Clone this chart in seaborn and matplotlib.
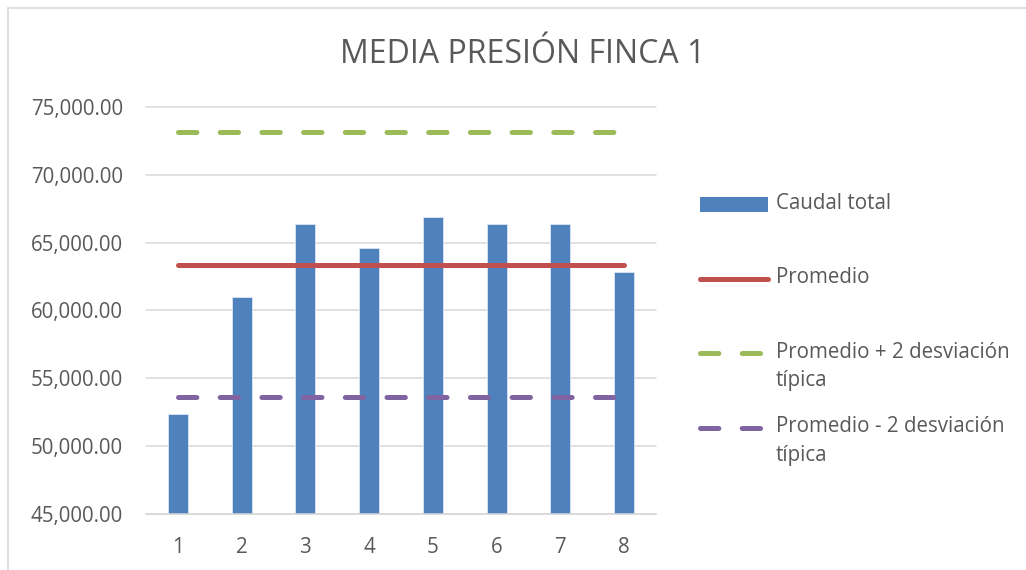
import numpy as np
import pandas as pd
import seaborn as sns
import matplotlib.pyplot as plt
from matplotlib.legend_handler import HandlerLine2D, HandlerPatch
from matplotlib.lines import Line2D
from matplotlib.patches import Patch
from matplotlib.ticker import FuncFormatter

# ---- data ----
categories = ["1", "2", "3", "4", "5", "6", "7", "8"]
caudal_total = [52380, 60990, 66380, 64610, 66880, 66380, 66380, 62820]
promedio = 63380
promedio_mas_2sd = 73150
promedio_menos_2sd = 53610
y_ticks = [45000, 50000, 55000, 60000, 65000, 70000, 75000]
title = "MEDIA PRESIÓN FINCA 1"
legend_labels = ["Caudal total\n", "Promedio\n",
                 "Promedio + 2 desviación\ntípica",
                 "Promedio - 2 desviación\ntípica"]

BLUE, RED, GREEN, PURPLE = "#4F81BD", "#C0504D", "#9BBB59", "#8064A2"
TXT, GRID = "#595959", "#D9D9D9"

sns.set_theme(style="white")
plt.rcParams['font.family'] = ['Open Sans', 'DejaVu Sans']

W, H = 1026, 570
fig = plt.figure(figsize=(W / 100, H / 100), dpi=100)
ax = fig.add_axes([146 / W, 1 - 514 / H, 510 / W, 407 / H])

df = pd.DataFrame({"x": categories, "y": caudal_total})
sns.barplot(data=df, x="x", y="y", color=BLUE, saturation=1, width=0.31,
            edgecolor="#dce6f2", linewidth=0.6, ax=ax, zorder=2)

pos = np.arange(len(categories))
lw = 3.6
dash = (0, (3.67, 4.67))
sns.lineplot(x=pos, y=[promedio] * len(categories), color=RED, linewidth=lw,
             solid_capstyle="round", ax=ax, zorder=3)
sns.lineplot(x=pos, y=[promedio_mas_2sd] * len(categories), color=GREEN,
             linewidth=lw, linestyle=dash, dash_capstyle="round", ax=ax, zorder=3)
sns.lineplot(x=pos, y=[promedio_menos_2sd] * len(categories), color=PURPLE,
             linewidth=lw, linestyle=dash, dash_capstyle="round", ax=ax, zorder=3)

ax.set_xlim(-0.5, len(categories) - 0.5)
ax.set_ylim(y_ticks[0], y_ticks[-1])
ax.set_yticks(y_ticks)
ax.yaxis.set_major_formatter(FuncFormatter(lambda v, p: f"{v:,.2f}"))
ax.set_xlabel("")
ax.set_ylabel("")
for s in ["top", "right", "left"]:
    ax.spines[s].set_visible(False)
ax.spines["bottom"].set_color(GRID)
ax.spines["bottom"].set_linewidth(1.1)
ax.yaxis.grid(True, color=GRID, linewidth=1.1)
ax.set_axisbelow(True)
for gl in ax.get_ygridlines():
    gl.set_clip_on(False)
ax.tick_params(axis="both", length=0, labelsize=14.8, labelcolor=TXT)
ax.tick_params(axis="y", pad=16.5)
ax.tick_params(axis="x", pad=16.5)

fig.text(523 / W, 1 - 63 / H, title, ha="center", va="baseline",
         fontsize=23, color=TXT)

# figure border (left and top visible in reference)
fig.add_artist(Line2D([8 / W, 8 / W], [0, 1 - 8 / H], color=GRID, lw=1.2,
                      transform=fig.transFigure))
fig.add_artist(Line2D([8 / W, 1], [1 - 8 / H, 1 - 8 / H], color=GRID, lw=1.2,
                      transform=fig.transFigure))

SHIFT = 10.0  # points, aligns handle with first text line


class ShiftLine(HandlerLine2D):
    def create_artists(self, legend, orig_handle, xdescent, ydescent, width,
                       height, fontsize, trans):
        return super().create_artists(legend, orig_handle, xdescent,
                                      ydescent - 2 * SHIFT, width, height,
                                      fontsize, trans)


class ShiftPatch(HandlerPatch):
    def create_artists(self, legend, orig_handle, xdescent, ydescent, width,
                       height, fontsize, trans):
        return super().create_artists(legend, orig_handle, xdescent,
                                      ydescent - SHIFT, width, height,
                                      fontsize, trans)


handles = [
    Patch(facecolor=BLUE, edgecolor="none"),
    Line2D([], [], color=RED, lw=lw, solid_capstyle="round"),
    Line2D([], [], color=GREEN, lw=lw, linestyle=dash, dash_capstyle="round"),
    Line2D([], [], color=PURPLE, lw=lw, linestyle=dash, dash_capstyle="round"),
]
leg = fig.legend(handles, legend_labels, loc="upper left",
                 bbox_to_anchor=(700 / W, 1 - 193 / H), frameon=False,
                 fontsize=14.8, handlelength=3.3, handletextpad=0.39,
                 labelspacing=1.23, borderpad=0, borderaxespad=0,
                 handler_map={Patch: ShiftPatch(), Line2D: ShiftLine()})
for t in leg.get_texts():
    t.set_color(TXT)
    t.set_linespacing(1.45)

fig.savefig("out.png", dpi=100)
